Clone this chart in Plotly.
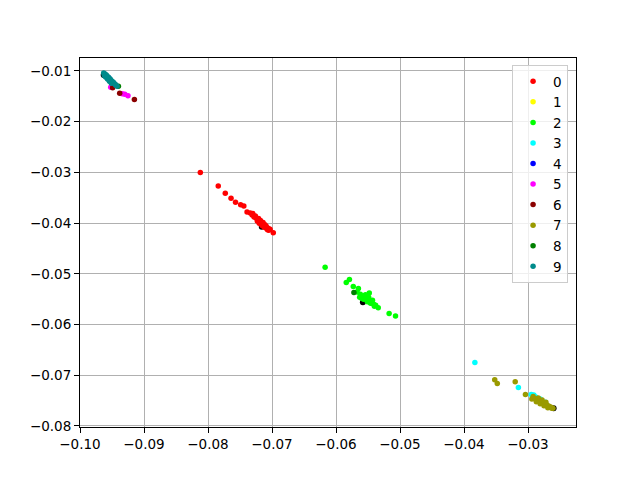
import plotly.graph_objects as go

# ---- data ----
labels = ["0", "1", "2", "3", "4", "5", "6", "7", "8", "9"]
colors = ["#ff0000", "#ffff00", "#00ff00", "#00ffff", "#0000ff",
          "#ff00ff", "#8b0000", "#9a9a00", "#008000", "#008b8b"]

x0 = [-0.0812, -0.0784, -0.0773, -0.0764, -0.0757, -0.0749, -0.0744, -0.0739, -0.0734, -0.0731,
      -0.0728, -0.0725, -0.0723, -0.0722, -0.0719, -0.0717, -0.0716, -0.0713, -0.0709, -0.0709,
      -0.0706, -0.0705, -0.0703, -0.0698, -0.0730, -0.0726, -0.0721, -0.0718, -0.0714, -0.0711,
      -0.0720, -0.0715, -0.0712, -0.0707]
y0 = [-0.0300, -0.0327, -0.0341, -0.0351, -0.0359, -0.0364, -0.0366, -0.0378, -0.0380, -0.0384,
      -0.0388, -0.0390, -0.0396, -0.0394, -0.0398, -0.0402, -0.0400, -0.0404, -0.0406, -0.0410,
      -0.0410, -0.0414, -0.0412, -0.0419, -0.0381, -0.0386, -0.0391, -0.0395, -0.0399, -0.0403,
      -0.0400, -0.0405, -0.0408, -0.0413]

x1 = [-0.0268]
y1 = [-0.0762]

x2 = [-0.0617, -0.0584, -0.0579, -0.0573, -0.0565, -0.0567, -0.0562, -0.0559, -0.0556, -0.0553,
      -0.0550, -0.0548, -0.0547, -0.0544, -0.0541, -0.0538, -0.0534, -0.0517, -0.0507, -0.0560,
      -0.0552, -0.0563, -0.0557, -0.0551, -0.0546, -0.0540, -0.0554, -0.0549, -0.0543]
y2 = [-0.0487, -0.0517, -0.0511, -0.0525, -0.0529, -0.0536, -0.0540, -0.0544, -0.0546, -0.0550,
      -0.0552, -0.0538, -0.0556, -0.0558, -0.0560, -0.0562, -0.0567, -0.0578, -0.0583, -0.0548,
      -0.0544, -0.0546, -0.0550, -0.0555, -0.0558, -0.0564, -0.0541, -0.0546, -0.0552]

x3 = [-0.0383, -0.0315, -0.0295, -0.0291, -0.0288, -0.0281, -0.0273]
y3 = [-0.0675, -0.0724, -0.0738, -0.0739, -0.0743, -0.0747, -0.0753]

x4 = [-0.0955]
y4 = [-0.0114]

x5 = [-0.0952, -0.0934, -0.0930, -0.0925]
y5 = [-0.0132, -0.0145, -0.0146, -0.0149]

x6 = [-0.0949, -0.0938, -0.0915]
y6 = [-0.0133, -0.0144, -0.0156]

x7 = [-0.0352, -0.0348, -0.0320, -0.0304, -0.0292, -0.0294, -0.0289, -0.0286, -0.0283, -0.0280,
      -0.0277, -0.0273, -0.0270, -0.0267, -0.0264, -0.0263, -0.0261, -0.0266, -0.0287, -0.0281,
      -0.0275, -0.0269, -0.0284, -0.0278, -0.0272]
y7 = [-0.0709, -0.0716, -0.0713, -0.0738, -0.0742, -0.0747, -0.0747, -0.0749, -0.0751, -0.0753,
      -0.0755, -0.0757, -0.0759, -0.0761, -0.0763, -0.0765, -0.0765, -0.0763, -0.0752, -0.0756,
      -0.0760, -0.0764, -0.0745, -0.0749, -0.0753]

x8 = [-0.0572, -0.0940]
y8 = [-0.0537, -0.0130]

x9 = [-0.0963, -0.0961, -0.0959, -0.0958, -0.0956, -0.0955, -0.0953, -0.0952, -0.0950, -0.0948,
      -0.0947, -0.0945, -0.0944, -0.0942, -0.0960, -0.0957, -0.0954, -0.0951, -0.0962, -0.0958,
      -0.0955, -0.0952]
y9 = [-0.0104, -0.0106, -0.0108, -0.0110, -0.0112, -0.0114, -0.0116, -0.0118, -0.0120, -0.0122,
      -0.0124, -0.0126, -0.0128, -0.0130, -0.0112, -0.0116, -0.0120, -0.0124, -0.0109, -0.0113,
      -0.0117, -0.0121]

# dark points showing just under the dense cluster ends
xk = [-0.0963, -0.0716, -0.0558, -0.0260]
yk = [-0.0108, -0.0407, -0.0556, -0.0765]

xs = [x0, x1, x2, x3, x4, x5, x6, x7, x8, x9]
ys = [y0, y1, y2, y3, y4, y5, y6, y7, y8, y9]

xtickvals = [-0.10, -0.09, -0.08, -0.07, -0.06, -0.05, -0.04, -0.03]
xticktext = ["−0.10", "−0.09", "−0.08", "−0.07", "−0.06", "−0.05", "−0.04", "−0.03"]
ytickvals = [-0.01, -0.02, -0.03, -0.04, -0.05, -0.06, -0.07, -0.08]
yticktext = ["−0.01", "−0.02", "−0.03", "−0.04", "−0.05", "−0.06", "−0.07", "−0.08"]

fig = go.Figure()
fig.add_trace(go.Scatter(x=xk, y=yk, mode="markers", showlegend=False, hoverinfo="skip",
                         marker=dict(color="black", size=6, line=dict(width=0))))
for lab, c, xv, yv in zip(labels, colors, xs, ys):
    fig.add_trace(go.Scatter(x=xv, y=yv, mode="markers", name=lab,
                             marker=dict(color=c, size=5.5, line=dict(width=0))))

axis_common = dict(showgrid=True, gridcolor="#b0b0b0", gridwidth=0.8,
                   showline=True, linecolor="black", linewidth=1, mirror=True,
                   ticks="outside", ticklen=5, tickcolor="black", tickwidth=1,
                   zeroline=False, automargin=False,
                   tickfont=dict(family="DejaVu Sans", size=13.5, color="black"))

fig.update_layout(
    width=640, height=480,
    paper_bgcolor="white", plot_bgcolor="white",
    margin=dict(l=72, r=72, t=50, b=61),
    xaxis=dict(range=[-0.10, -0.0225], tickvals=xtickvals, ticktext=xticktext, **axis_common),
    yaxis=dict(range=[-0.0802, -0.00744], tickvals=ytickvals, ticktext=yticktext, **axis_common),
    legend=dict(x=0.984, y=0.981, xanchor="right", yanchor="top",
                bgcolor="rgba(255,255,255,0.8)", bordercolor="#cccccc", borderwidth=1,
                font=dict(family="DejaVu Sans", size=13.5, color="black"),
                tracegroupgap=0, itemwidth=30),
    font=dict(family="DejaVu Sans"),
)

fig.write_html("out.html")
